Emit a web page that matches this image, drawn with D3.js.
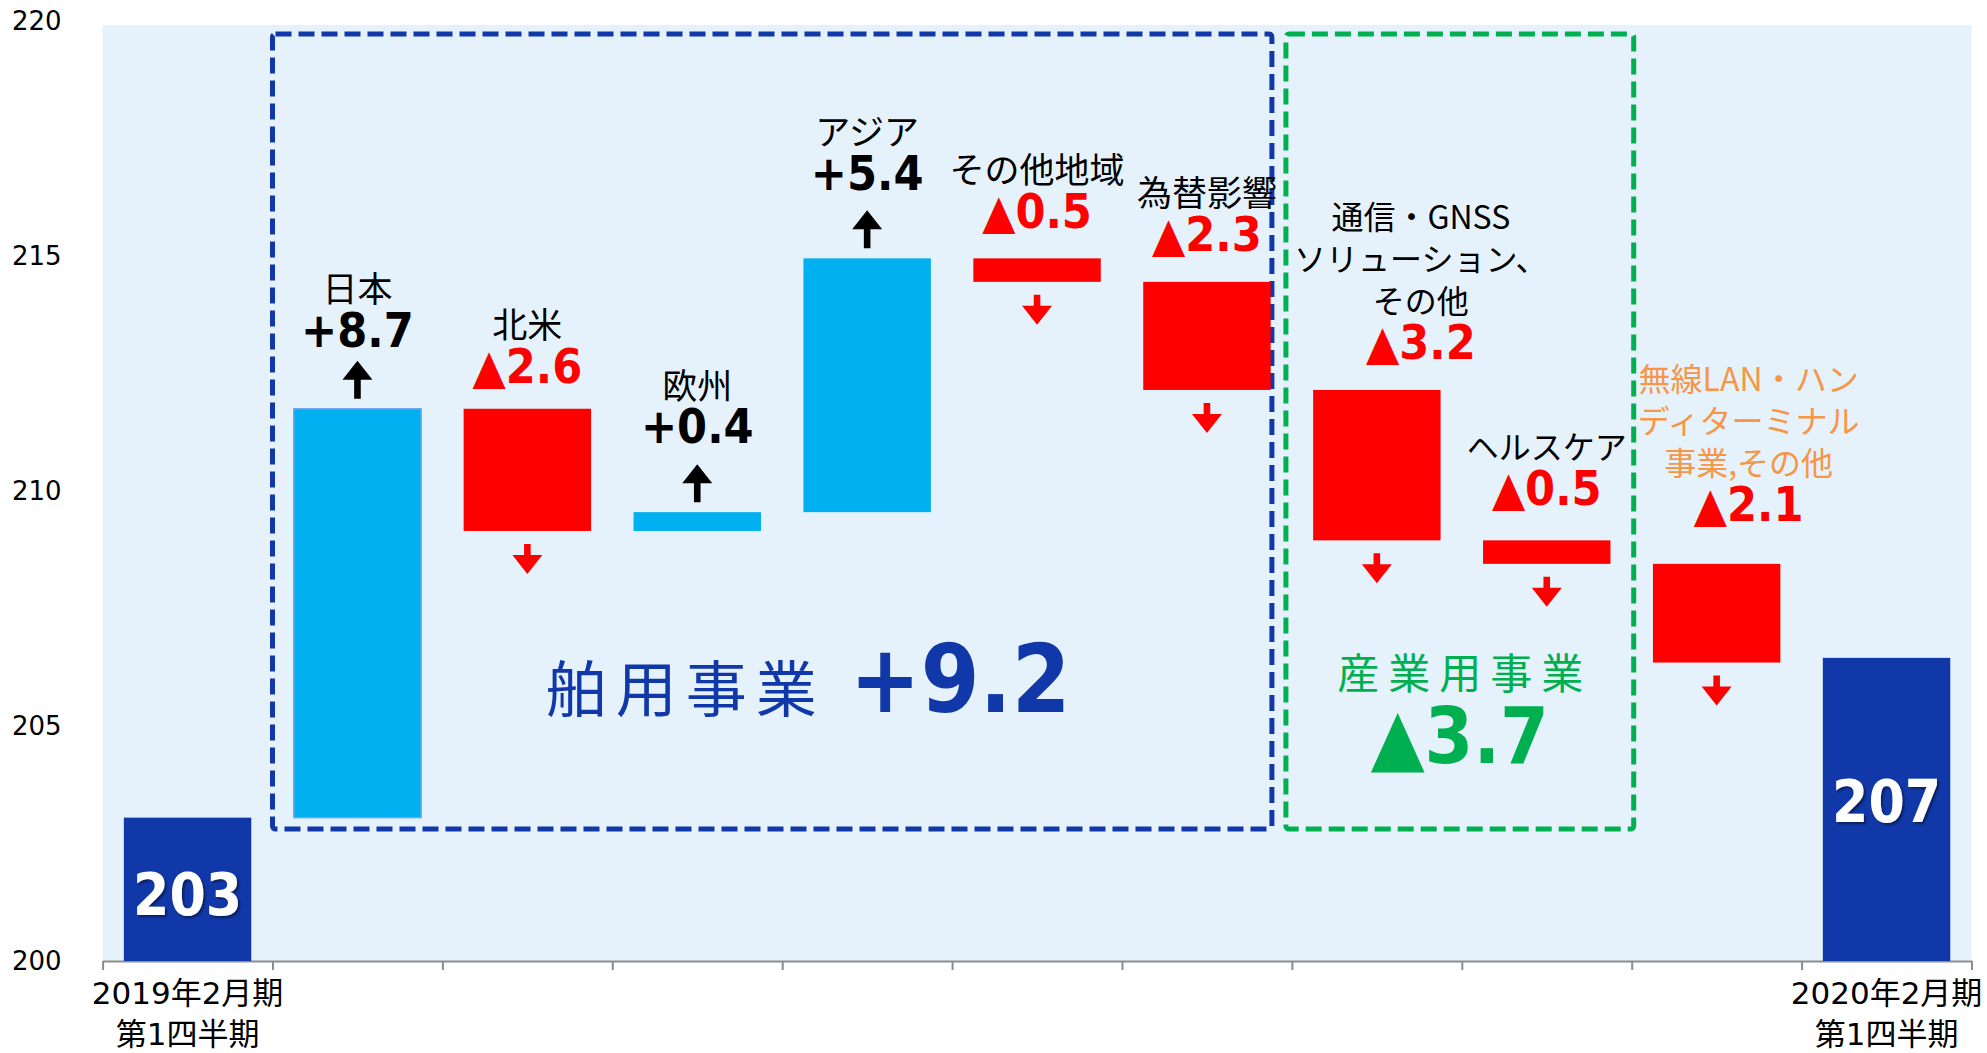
<!DOCTYPE html>
<html>
<head>
<meta charset="utf-8">
<script src="https://cdn.jsdelivr.net/npm/d3@7"></script>
<style>
	body { margin: 0; background: #ffffff; }
</style>
</head>
<body>
<div id="plot"></div>
<script>

// Chart values
var totalValues = [203.05, 206.45];
var totalText = ["203", "207"];
var periodLabels = [["2019年2月期", "第1四半期"], ["2020年2月期", "第1四半期"]];
var categories = ["日本", "北米", "欧州", "アジア", "その他地域", "為替影響",
	"通信・GNSS\nソリューション、\nその他", "ヘルスケア", "無線LAN・ハン\nディターミナル\n事業,その他"];
var deltas = [8.7, -2.6, 0.4, 5.4, -0.5, -2.3, -3.2, -0.5, -2.1];
var deltaText = ["+8.7", "▲2.6", "+0.4", "+5.4", "▲0.5", "▲2.3", "▲3.2", "▲0.5", "▲2.1"];
var yTicks = [200, 205, 210, 215, 220];
var groupNames = ["舶用事業", "産業用事業"];
var groupText = ["+9.2", "▲3.7"];

function main(){

	var width = 1987, height = 1053;
	var plot = {left: 102.6, right: 1971.5, top: 25, bottom: 961};

	var jpFont = "'Noto Sans CJK JP', sans-serif";
	var numFont = "'DejaVu Sans Condensed', 'DejaVu Sans', sans-serif";
	var axisFont = "'DejaVu Sans', 'Noto Sans CJK JP', sans-serif";

	var svg = d3.select("#plot")
		.append("svg")
		.attr("width", width)
		.attr("height", height);

	// Soft shadow for the total labels
	var filter = svg.append("defs").append("filter")
		.attr("id", "shadow")
		.attr("x", "-20%").attr("y", "-20%")
		.attr("width", "140%").attr("height", "140%");
	filter.append("feDropShadow")
		.attr("dx", 2).attr("dy", 2)
		.attr("stdDeviation", 1.2)
		.attr("flood-color", "#000")
		.attr("flood-opacity", 0.45);

	// Running totals for the waterfall
	var steps = [];
	var level = totalValues[0];
	deltas.forEach(function(d, i){
		steps.push({i: i + 1, name: categories[i], delta: d, text: deltaText[i], from: level, to: level + d});
		level += d;
	});
	var totals = [
		{i: 0, value: totalValues[0], text: totalText[0], label: periodLabels[0], shift: 5},
		{i: categories.length + 1, value: totalValues[1], text: totalText[1], label: periodLabels[1], shift: -8}
	];

	// Scales
	var nBands = categories.length + 2;
	var x = d3.scaleBand()
		.domain(d3.range(nBands))
		.range([plot.left, plot.right])
		.paddingInner(0.25)
		.paddingOuter(0.125);
	var xEdge = d3.scaleLinear()
		.domain([0, nBands])
		.range([plot.left, plot.right]);
	var y = d3.scaleLinear()
		.domain([200, 220])
		.range([plot.bottom, 21]);

	// Plot background
	svg.append("rect")
		.attr("x", plot.left)
		.attr("y", plot.top)
		.attr("width", plot.right - plot.left)
		.attr("height", plot.bottom - plot.top)
		.style("fill", "#e6f2fb");

	// Y axis (labels only)
	var yAxis = svg.append("g")
		.attr("transform", "translate(" + plot.left + ",0)")
		.call(d3.axisLeft(y).tickValues(yTicks).tickSize(0).tickPadding(41));
	yAxis.select(".domain").remove();
	yAxis.selectAll("text")
		.style("font-family", axisFont)
		.style("font-size", "26px")
		.style("fill", "#000");

	// X axis: line with ticks at band edges
	var xAxis = svg.append("g")
		.attr("transform", "translate(0," + plot.bottom + ")")
		.call(d3.axisBottom(xEdge).tickValues(d3.range(nBands + 1)).tickFormat("").tickSize(9).tickSizeOuter(0));
	xAxis.select(".domain").style("stroke", "#8c8c8c").style("stroke-width", 2);
	xAxis.selectAll(".tick line").style("stroke", "#8c8c8c").style("stroke-width", 2);

	// Dashed group boxes
	var boxTop = 34, boxBottom = 829;
	var boxes = [
		{x0: xEdge(1), x1: xEdge(7) - 20, color: "#1038a8"},
		{x0: xEdge(7) - 6, x1: xEdge(9) + 2, color: "#00b050"}
	];
	svg.append("g")
		.selectAll("rect")
		.data(boxes).enter()
		.append("rect")
		.attr("x", function(d){ return d.x0; })
		.attr("y", boxTop)
		.attr("width", function(d){ return d.x1 - d.x0; })
		.attr("height", boxBottom - boxTop)
		.attr("rx", 3)
		.style("fill", "none")
		.style("stroke", function(d){ return d.color; })
		.style("stroke-width", 5)
		.style("stroke-dasharray", "16,7");

	// Total bars
	svg.append("g")
		.selectAll("rect")
		.data(totals).enter()
		.append("rect")
		.attr("x", function(d){ return x(d.i); })
		.attr("y", function(d){ return y(d.value); })
		.attr("width", x.bandwidth())
		.attr("height", function(d){ return y(200) - y(d.value); })
		.style("fill", "#1038a8");

	svg.append("g")
		.selectAll("text")
		.data(totals).enter()
		.append("text")
		.attr("x", function(d){ return x(d.i) + x.bandwidth() / 2; })
		.attr("y", function(d){ return (y(d.value) + y(200)) / 2 + d.shift; })
		.attr("dy", "0.36em")
		.attr("filter", "url(#shadow)")
		.style("text-anchor", "middle")
		.style("font-family", numFont)
		.style("font-stretch", "condensed")
		.style("font-weight", "bold")
		.style("font-size", "58px")
		.style("fill", "#fff")
		.text(function(d){ return d.text; });

	// Period labels under the axis
	var periods = svg.append("g")
		.selectAll("text")
		.data(totals).enter()
		.append("text")
		.style("text-anchor", "middle")
		.style("font-family", axisFont)
		.style("font-size", "31px")
		.style("fill", "#000");
	periods.selectAll("tspan")
		.data(function(d){ return d.label.map(function(t, k){ return {t: t, k: k, cx: x(d.i) + x.bandwidth() / 2}; }); })
		.enter().append("tspan")
		.attr("x", function(d){ return d.cx; })
		.attr("y", function(d){ return 1004 + d.k * 41; })
		.text(function(d){ return d.t; });

	// Change bars
	svg.append("g")
		.selectAll("rect")
		.data(steps).enter()
		.append("rect")
		.attr("x", function(d){ return x(d.i); })
		.attr("y", function(d){ return y(Math.max(d.from, d.to)); })
		.attr("width", x.bandwidth())
		.attr("height", function(d){ return Math.abs(y(d.from) - y(d.to)); })
		.style("fill", function(d){ return d.delta > 0 ? "#00b0f0" : "#ff0000"; })
		.style("stroke", function(d){ return d.i === 1 ? "#6fa8f0" : "none"; })
		.style("stroke-width", 1.5);

	// Arrows: up above rising bars, down below falling bars
	var arrowPath = function(d){
		var cx = x(d.i) + x.bandwidth() / 2;
		var hw = 15, sw = 3.3, head = 19;
		var p;
		if (d.delta > 0) {
			var yb = y(d.to) - 10, yt = yb - 38;
			p = [[cx - sw, yb], [cx - sw, yt + head], [cx - hw, yt + head], [cx, yt],
				[cx + hw, yt + head], [cx + sw, yt + head], [cx + sw, yb]];
		} else {
			var ys = y(d.to) + 13, ye = ys + 30;
			p = [[cx - sw, ys], [cx - sw, ye - head], [cx - hw, ye - head], [cx, ye],
				[cx + hw, ye - head], [cx + sw, ye - head], [cx + sw, ys]];
		}
		return "M" + p.join("L") + "Z";
	};
	svg.append("g")
		.selectAll("path")
		.data(steps).enter()
		.append("path")
		.attr("d", arrowPath)
		.style("fill", function(d){ return d.delta > 0 ? "#000" : "#ff0000"; });

	// Labels above bars (some are shifted to fit)
	var shift = {1: {dx: 0, dy: 7}, 2: {dx: 0, dy: 5}, 7: {dx: 44, dy: 0}, 8: {dx: 0, dy: -5}, 9: {dx: 32, dy: -12}};
	var nameColor = {9: "#f79646"};
	var nameSize = {8: "32px"};
	var labelX = function(d){ return x(d.i) + x.bandwidth() / 2 + (shift[d.i] ? shift[d.i].dx : 0); };
	var valueY = function(d){
		var top = y(Math.max(d.from, d.to)) + (shift[d.i] ? shift[d.i].dy : 0);
		return d.delta > 0 ? top - 86 : top - 48;
	};

	svg.append("g")
		.selectAll("text")
		.data(steps).enter()
		.append("text")
		.attr("x", labelX)
		.attr("y", valueY)
		.attr("dy", "0.36em")
		.style("text-anchor", "middle")
		.style("font-family", numFont)
		.style("font-stretch", "condensed")
		.style("font-weight", "bold")
		.style("font-size", "48px")
		.style("fill", function(d){ return d.delta > 0 ? "#000" : "#ff0000"; })
		.text(function(d){ return d.text; });

	var names = svg.append("g")
		.selectAll("text")
		.data(steps).enter()
		.append("text")
		.style("text-anchor", "middle")
		.style("font-family", jpFont)
		.style("fill", function(d){ return nameColor[d.i] || "#000"; });
	names.selectAll("tspan")
		.data(function(d){
			var lines = d.name.split("\n");
			return lines.map(function(t, k){
				var size = nameSize[d.i] || (lines.length > 1 ? "32px" : "35px");
				return {t: t, size: size, cx: labelX(d), cy: valueY(d) - 40 - (lines.length - 1 - k) * 42};
			});
		})
		.enter().append("tspan")
		.attr("x", function(d){ return d.cx; })
		.attr("y", function(d){ return d.cy; })
		.attr("dy", "0.36em")
		.style("font-size", function(d){ return d.size; })
		.text(function(d){ return d.t; });

	// Group captions inside the dashed boxes
	var cap1 = svg.append("text")
		.attr("x", (boxes[0].x0 + boxes[0].x1) / 2 + 36)
		.attr("y", 706)
		.attr("dy", "0.36em")
		.style("text-anchor", "middle")
		.style("fill", "#1038a8");
	cap1.append("tspan")
		.style("font-family", jpFont)
		.style("font-size", "61px")
		.style("letter-spacing", "9px")
		.text(groupNames[0]);
	cap1.append("tspan")
		.attr("dx", 24)
		.style("font-family", numFont)
		.style("font-stretch", "condensed")
		.style("font-weight", "bold")
		.style("font-size", "94px")
		.text(groupText[0]);

	var cx2 = (boxes[1].x0 + boxes[1].x1) / 2;
	svg.append("text")
		.attr("x", cx2 + 5)
		.attr("y", 674)
		.attr("dy", "0.36em")
		.style("text-anchor", "middle")
		.style("font-family", jpFont)
		.style("font-size", "42px")
		.style("letter-spacing", "9px")
		.style("fill", "#00b050")
		.text(groupNames[1]);
	svg.append("text")
		.attr("x", cx2)
		.attr("y", 735)
		.attr("dy", "0.36em")
		.style("text-anchor", "middle")
		.style("font-family", numFont)
		.style("font-stretch", "condensed")
		.style("font-weight", "bold")
		.style("font-size", "78px")
		.style("fill", "#00b050")
		.text(groupText[1]);
}

main();
</script>
</body>
</html>
